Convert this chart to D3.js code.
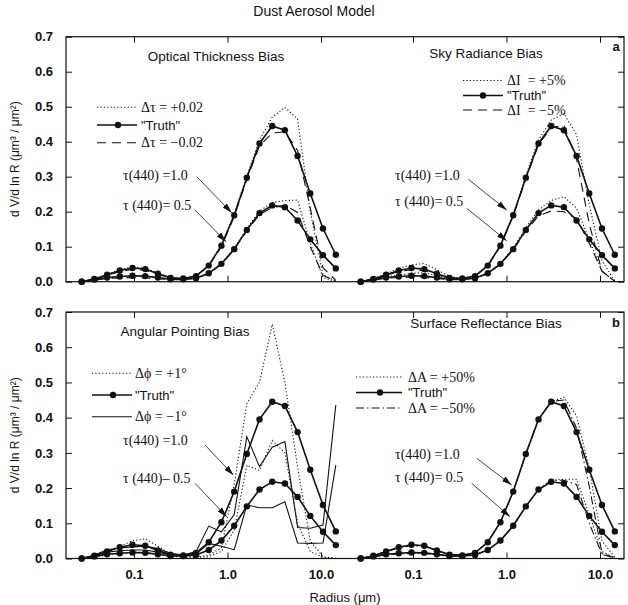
<!DOCTYPE html>
<html>
<head>
<meta charset="utf-8">
<script src="https://cdn.jsdelivr.net/npm/d3@7"></script>
<style>
body { margin: 0; background: #fff; }
text { fill: #111; }
</style>
</head>
<body>
<svg width="628" height="605"></svg>
<script>
// radius bins (um)
var radius = [0.0276, 0.0377, 0.0516, 0.0705, 0.0964, 0.132, 0.180, 0.246, 0.337, 0.461, 0.630,
              0.861, 1.18, 1.61, 2.20, 3.01, 4.11, 5.62, 7.68, 10.5, 14.4];

// "Truth" size distributions
var truth10 = [0.000, 0.008, 0.020, 0.032, 0.039, 0.036, 0.023, 0.011, 0.009, 0.016, 0.046,
               0.103, 0.190, 0.297, 0.395, 0.445, 0.433, 0.359, 0.252, 0.152, 0.077];
var truth05 = [0.000, 0.006, 0.012, 0.015, 0.017, 0.016, 0.012, 0.007, 0.007, 0.010, 0.024,
               0.051, 0.093, 0.148, 0.196, 0.218, 0.213, 0.175, 0.121, 0.076, 0.038];

// optical thickness bias
var tauPlus10  = [0.000, 0.008, 0.021, 0.034, 0.042, 0.039, 0.025, 0.012, 0.009, 0.017, 0.048,
                  0.105, 0.192, 0.302, 0.405, 0.470, 0.498, 0.465, 0.200, 0.020, 0.002];
var tauMinus10 = [0.000, 0.007, 0.018, 0.029, 0.035, 0.033, 0.021, 0.010, 0.009, 0.016, 0.045,
                  0.100, 0.186, 0.292, 0.388, 0.425, 0.428, 0.375, 0.210, 0.040, 0.004];
var tauPlus05  = [0.000, 0.005, 0.011, 0.014, 0.016, 0.015, 0.011, 0.007, 0.007, 0.010, 0.024,
                  0.052, 0.095, 0.152, 0.202, 0.226, 0.232, 0.233, 0.110, 0.012, 0.001];
var tauMinus05 = [0.000, 0.004, 0.009, 0.011, 0.012, 0.011, 0.008, 0.006, 0.006, 0.010, 0.023,
                  0.050, 0.092, 0.145, 0.192, 0.212, 0.218, 0.198, 0.100, 0.018, 0.002];

// sky radiance bias
var skyPlus10  = [0.000, 0.009, 0.023, 0.038, 0.048, 0.052, 0.034, 0.015, 0.010, 0.017, 0.047,
                  0.104, 0.192, 0.303, 0.405, 0.462, 0.480, 0.420, 0.220, 0.060, 0.002];
var skyMinus10 = [0.000, 0.007, 0.018, 0.029, 0.034, 0.032, 0.020, 0.010, 0.009, 0.016, 0.045,
                  0.101, 0.188, 0.293, 0.392, 0.440, 0.447, 0.350, 0.165, 0.030, 0.001];
var skyPlus05  = [0.000, 0.006, 0.014, 0.019, 0.024, 0.026, 0.017, 0.009, 0.007, 0.010, 0.025,
                  0.052, 0.096, 0.154, 0.205, 0.232, 0.243, 0.210, 0.120, 0.030, 0.001];
var skyMinus05 = [0.000, 0.005, 0.010, 0.012, 0.013, 0.012, 0.009, 0.006, 0.006, 0.010, 0.023,
                  0.050, 0.091, 0.144, 0.188, 0.202, 0.200, 0.180, 0.110, 0.030, 0.001];

// angular pointing bias
var angPlus10  = [0.000, 0.006, 0.020, 0.035, 0.050, 0.056, 0.035, 0.012, 0.006, 0.004, 0.010,
                  0.030, 0.210, 0.440, 0.500, 0.665, 0.500, 0.260, 0.050, 0.005, 0.000];
var angMinus10 = [0.000, 0.010, 0.025, 0.030, 0.033, 0.035, 0.028, 0.015, 0.010, 0.020, 0.092,
                  0.076, 0.125, 0.346, 0.261, 0.316, 0.332, 0.088, 0.086, 0.095, 0.436];
var angPlus05  = [0.000, 0.004, 0.010, 0.014, 0.017, 0.018, 0.012, 0.006, 0.004, 0.003, 0.005,
                  0.020, 0.080, 0.265, 0.250, 0.335, 0.300, 0.100, 0.020, 0.003, 0.000];
var angMinus05 = [0.000, 0.008, 0.018, 0.022, 0.024, 0.024, 0.018, 0.010, 0.008, 0.012, 0.043,
                  0.035, 0.025, 0.152, 0.144, 0.144, 0.161, 0.044, 0.043, 0.044, 0.265];

// surface reflectance bias
var srfPlus10  = [0.000, 0.008, 0.020, 0.032, 0.039, 0.036, 0.023, 0.011, 0.009, 0.016, 0.046,
                  0.103, 0.190, 0.297, 0.395, 0.445, 0.458, 0.405, 0.255, 0.050, 0.003];
var srfMinus10 = [0.000, 0.008, 0.019, 0.030, 0.037, 0.034, 0.022, 0.011, 0.009, 0.016, 0.046,
                  0.103, 0.190, 0.297, 0.395, 0.446, 0.450, 0.370, 0.205, 0.015, 0.001];
var srfPlus05  = [0.000, 0.006, 0.012, 0.015, 0.017, 0.016, 0.012, 0.007, 0.007, 0.010, 0.024,
                  0.051, 0.093, 0.148, 0.196, 0.222, 0.225, 0.225, 0.125, 0.020, 0.002];
var srfMinus05 = [0.000, 0.005, 0.010, 0.013, 0.014, 0.014, 0.011, 0.007, 0.007, 0.010, 0.024,
                  0.051, 0.093, 0.148, 0.196, 0.222, 0.222, 0.210, 0.100, 0.012, 0.001];

var xTickLabels = ["0.1", "1.0", "10.0"];
var xMajor = [0.1, 1, 10];
var xMinor = [0.02, 0.03, 0.04, 0.05, 0.06, 0.07, 0.08, 0.09, 0.2, 0.3, 0.4, 0.5, 0.6, 0.7, 0.8, 0.9,
              2, 3, 4, 5, 6, 7, 8, 9];
var yLabels = [0.0, 0.1, 0.2, 0.3, 0.4, 0.5, 0.6, 0.7];

var sans = "Arial, 'Liberation Sans', Helvetica, sans-serif";
var serif = "'Times New Roman', 'Liberation Serif', serif";

var svg = d3.select("svg");

var defs = svg.append("defs");
defs.append("marker")
  .attr("id", "arrow")
  .attr("viewBox", "0 0 10 6")
  .attr("refX", 10).attr("refY", 3)
  .attr("markerWidth", 10).attr("markerHeight", 6)
  .attr("markerUnits", "userSpaceOnUse")
  .attr("orient", "auto")
  .append("path").attr("d", "M0,0 L10,3 L0,6 z").attr("fill", "#111");

var rows = [{top: 36.7, bottom: 281.7, letter: "a", ly: 51},
            {top: 312, bottom: 558.5, letter: "b", ly: 327}];
var cols = [{left: 66, right: 345}, {left: 345, right: 624}];

var styles = {
  dotted: {dash: "1.2,2.2", width: 1.1},
  dashed: {dash: "9,6", width: 1.1},
  dashdot: {dash: "8,3,1.5,3", width: 1.1},
  thin: {dash: null, width: 1.1}
};

var panels = [
  {row: 0, col: 0, title: "Optical Thickness Bias", tx: 216, ty: 61,
   plus: [tauPlus10, tauPlus05], minus: [tauMinus10, tauMinus05], plusStyle: "dotted", minusStyle: "dashed",
   legend: {x1: 97, x2: 137, tx: 141, ys: [107.3, 125, 142.7], labels: ["Δτ = +0.02", "\"Truth\"", "Δτ = −0.02"], dotX: 118},
   tau: {x: 123, y1: 179.5, y2: 209.5, l2: "τ (440)= 0.5",
         a1: [196.7, 176.7, 231.7, 212.7], a2: [195, 210, 226, 241.7]}},
  {row: 0, col: 1, title: "Sky Radiance Bias", tx: 486, ty: 57.5,
   plus: [skyPlus10, skyPlus05], minus: [skyMinus10, skyMinus05], plusStyle: "dotted", minusStyle: "dashed",
   legend: {x1: 463, x2: 503, tx: 507, ys: [80.5, 95.5, 110], labels: ["ΔI  = +5%", "\"Truth\"", "ΔI  = −5%"], dotX: 483},
   tau: {x: 395, y1: 179.5, y2: 206, l2: "τ (440)= 0.5",
         a1: [468.3, 179.3, 506.7, 210], a2: [466.7, 208.3, 506.7, 240.7]}},
  {row: 1, col: 0, title: "Angular Pointing Bias", tx: 185, ty: 336,
   plus: [angPlus10, angPlus05], minus: [angMinus10, angMinus05], plusStyle: "dotted", minusStyle: "thin",
   legend: {x1: 92, x2: 132, tx: 135, ys: [373.3, 395, 416.7], labels: ["Δϕ = +1°", "\"Truth\"", "Δϕ = −1°"], dotX: 113},
   tau: {x: 123, y1: 444.5, y2: 482.5, l2: "τ (440)– 0.5",
         a1: [205, 445, 233.3, 475], a2: [195, 483.3, 226.7, 516.7]}},
  {row: 1, col: 1, title: "Surface Reflectance Bias", tx: 486, ty: 327.5,
   plus: [srfPlus10, srfPlus05], minus: [srfMinus10, srfMinus05], plusStyle: "dotted", minusStyle: "dashdot",
   legend: {x1: 356, x2: 402, tx: 408, ys: [377, 392.5, 408], labels: ["ΔA = +50%", "\"Truth\"", "ΔA = −50%"], dotX: 380},
   tau: {x: 395, y1: 459, y2: 482, l2: "τ (440)= 0.5",
         a1: [476.7, 458.3, 511.7, 485], a2: [471.7, 483.3, 510, 516.7]}}
];

// frames, axes and ticks
rows.forEach(function(r, ri) {
  var y = d3.scaleLinear().domain([0, 0.7]).range([r.bottom, r.top]);

  svg.append("rect")
    .attr("x", cols[0].left).attr("y", r.top)
    .attr("width", cols[1].right - cols[0].left).attr("height", r.bottom - r.top)
    .attr("fill", "none").attr("stroke", "#111").attr("stroke-width", 1.2);

  var yMinor = d3.range(0, 36).map(function(i) { return i * 0.02; });
  var g = svg.append("g").attr("transform", "translate(" + cols[0].left + ",0)");
  g.call(d3.axisLeft(y).tickValues(yMinor).tickSize(-3).tickSizeOuter(0).tickFormat(""));
  g.call(d3.axisLeft(y).tickValues(yLabels).tickSize(-6).tickSizeOuter(0).tickPadding(13)
           .tickFormat(d3.format(".1f")));
  var gr = svg.append("g").attr("transform", "translate(" + cols[1].right + ",0)");
  gr.call(d3.axisRight(y).tickValues(yMinor).tickSize(-3).tickSizeOuter(0).tickFormat(""));
  gr.call(d3.axisRight(y).tickValues(yLabels).tickSize(-6).tickSizeOuter(0).tickFormat(""));

  cols.forEach(function(c) {
    var x = d3.scaleLog().domain([0.01875, 18.06]).range([c.left, c.right]);
    var gb = svg.append("g").attr("transform", "translate(0," + r.bottom + ")");
    gb.call(d3.axisBottom(x).tickValues(xMinor).tickSize(-3).tickSizeOuter(0).tickFormat(""));
    gb.call(d3.axisBottom(x).tickValues(xMajor).tickSize(-6).tickSizeOuter(0).tickPadding(11)
              .tickFormat(function(d, i) { return ri === 1 ? xTickLabels[i] : ""; }));
    var gt = svg.append("g").attr("transform", "translate(0," + r.top + ")");
    gt.call(d3.axisTop(x).tickValues(xMinor).tickSize(-3).tickSizeOuter(0).tickFormat(""));
    gt.call(d3.axisTop(x).tickValues(xMajor).tickSize(-6).tickSizeOuter(0).tickFormat(""));
  });

  svg.append("text").text(r.letter)
    .attr("x", 616).attr("y", r.ly).attr("text-anchor", "middle")
    .attr("font-family", sans).attr("font-weight", "bold").attr("font-size", "13px");

  svg.append("text").text("d V/d ln R (μm³ / μm²)")
    .attr("transform", "translate(19," + ((r.top + r.bottom) / 2) + ") rotate(-90)")
    .attr("text-anchor", "middle")
    .attr("font-family", sans).attr("font-size", "12px");
});

svg.selectAll(".domain").attr("stroke", "none");
svg.selectAll(".tick line").attr("stroke", "#111").attr("stroke-width", 1);
svg.selectAll(".tick text").attr("font-family", sans).attr("font-size", "13px")
  .attr("font-weight", "bold").attr("fill", "#111");

// curves
panels.forEach(function(p) {
  var r = rows[p.row], c = cols[p.col];
  var x = d3.scaleLog().domain([0.01875, 18.06]).range([c.left, c.right]);
  var y = d3.scaleLinear().domain([0, 0.7]).range([r.bottom, r.top]);
  var line = d3.line()
    .x(function(d, i) { return x(radius[i]); })
    .y(function(d) { return y(d); });
  var g = svg.append("g");

  function drawCurve(vals, styleName) {
    var s = styles[styleName];
    g.append("path").datum(vals)
      .attr("d", line)
      .attr("fill", "none")
      .attr("stroke", "#111")
      .attr("stroke-width", s.width)
      .attr("stroke-dasharray", s.dash);
  }
  p.plus.forEach(function(v) { drawCurve(v, p.plusStyle); });
  p.minus.forEach(function(v) { drawCurve(v, p.minusStyle); });

  [truth10, truth05].forEach(function(vals) {
    g.append("path").datum(vals)
      .attr("d", line)
      .attr("fill", "none").attr("stroke", "#111").attr("stroke-width", 1.6);
    g.selectAll(null).data(vals).enter().append("circle")
      .attr("cx", function(d, i) { return x(radius[i]); })
      .attr("cy", function(d) { return y(d); })
      .attr("r", 3.2).attr("fill", "#111");
  });

  // title
  svg.append("text").text(p.title)
    .attr("x", p.tx).attr("y", p.ty).attr("text-anchor", "middle")
    .attr("font-family", sans).attr("font-size", "13.5px");

  // legend
  var L = p.legend;
  var legStyles = [p.plusStyle, "truth", p.minusStyle];
  legStyles.forEach(function(st, i) {
    var ln = svg.append("line")
      .attr("x1", L.x1).attr("x2", L.x2).attr("y1", L.ys[i]).attr("y2", L.ys[i])
      .attr("stroke", "#111");
    if (st === "truth") {
      ln.attr("stroke-width", 1.4);
      svg.append("circle").attr("cx", L.dotX).attr("cy", L.ys[i]).attr("r", 3.2).attr("fill", "#111");
    } else {
      ln.attr("stroke-width", styles[st].width).attr("stroke-dasharray", styles[st].dash);
    }
    svg.append("text").text(L.labels[i])
      .attr("x", L.tx).attr("y", L.ys[i] + 4.5)
      .attr("font-family", st === "truth" ? sans : serif)
      .attr("font-size", st === "truth" ? "13px" : "14px")
      .style("white-space", "pre");
  });

  // tau annotations with arrows
  var T = p.tau;
  svg.append("text").text("τ(440) =1.0")
    .attr("x", T.x).attr("y", T.y1)
    .attr("font-family", serif).attr("font-size", "14px");
  svg.append("text").text(T.l2)
    .attr("x", T.x).attr("y", T.y2)
    .attr("font-family", serif).attr("font-size", "14px");
  [T.a1, T.a2].forEach(function(a) {
    svg.append("line")
      .attr("x1", a[0]).attr("y1", a[1]).attr("x2", a[2]).attr("y2", a[3])
      .attr("stroke", "#111").attr("stroke-width", 0.8)
      .attr("marker-end", "url(#arrow)");
  });
});

svg.append("text").text("Dust Aerosol Model")
  .attr("x", 314).attr("y", 16).attr("text-anchor", "middle")
  .attr("font-family", sans).attr("font-size", "14px");

svg.append("text").text("Radius (μm)")
  .attr("x", 345).attr("y", 602).attr("text-anchor", "middle")
  .attr("font-family", sans).attr("font-size", "13px");
</script>
</body>
</html>
